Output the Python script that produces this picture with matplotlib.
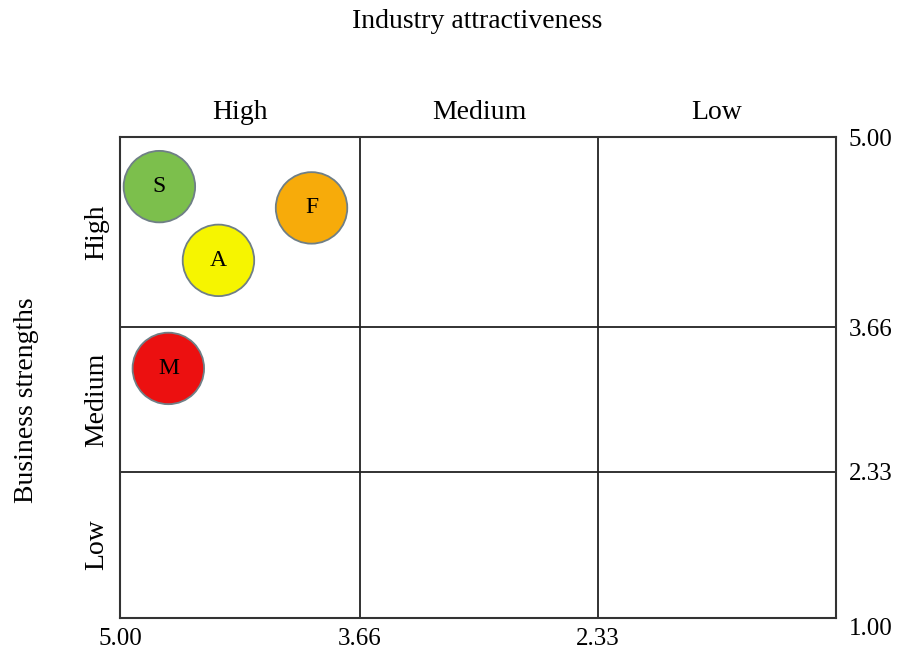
import matplotlib.pyplot as plt
import numpy as np

plt.rcParams['font.family'] = ['Liberation Serif', 'DejaVu Serif']

# business units on the matrix
units = ['S', 'F', 'A', 'M']
attractiveness = [4.78, 3.93, 4.45, 4.73]
strength = [4.65, 4.50, 4.13, 3.28]
colors = ['#7cbf4c', '#f7ab0a', '#f6f500', '#ec1010']

levels = ['High', 'Medium', 'Low']
cuts = [5.00, 3.66, 2.33, 1.00]

# rows of the strength axis are not equally tall
y_knots = [1.00, 2.33, 3.66, 5.00]
y_pos = [0.0, 146.0, 291.0, 481.0]


def fwd(v):
    return np.interp(v, y_knots, y_pos)


def inv(v):
    return np.interp(v, y_pos, y_knots)


fig = plt.figure(figsize=(9.01, 6.60), dpi=100)
ax = fig.add_axes([120 / 901, 42 / 660, 716 / 901, 481 / 660])
ax.set_yscale('function', functions=(fwd, inv))
ax.set_xlim(5.0, 1.0)
ax.set_ylim(1.0, 5.0)

for v in cuts[1:3]:
    ax.axvline(v, color='#222222', lw=1.3)
    ax.axhline(v, color='#222222', lw=1.3)
for sp in ax.spines.values():
    sp.set_color('#333333')
    sp.set_linewidth(1.5)

ax.scatter(attractiveness, strength, s=2650, c=colors, edgecolors='#6f7f86',
           linewidths=1.3, zorder=3)
for u, x, y in zip(units, attractiveness, strength):
    ax.text(x, y, u, ha='center', va='center', fontsize=17, zorder=4)

# tick labels: bottom for attractiveness, right side for strength
ax.set_xticks(cuts[:3])
ax.set_xticklabels(['%.2f' % c for c in cuts[:3]], fontsize=18)
ax.tick_params(axis='x', length=0, pad=7)
ax.yaxis.tick_right()
ax.set_yticks(cuts)
ax.set_yticklabels(['%.2f' % c for c in cuts], fontsize=18)
ax.tick_params(axis='y', length=0, pad=9)
ax.get_yticklabels()[-1].set_verticalalignment('top')

# column and row names
col_mid = [(cuts[i] + cuts[i + 1]) / 2 for i in range(3)]
for name, xm in zip(levels, col_mid):
    ax.text(xm, 1.05, name, transform=ax.get_xaxis_transform(),
            ha='center', va='center', fontsize=20)
for name, ym in zip(levels, col_mid):
    ax.text(-0.032, ym, name, transform=ax.get_yaxis_transform(),
            ha='center', va='center', rotation=90, fontsize=20)

fig.text(477 / 901, 1 - 22 / 660, 'Industry attractiveness',
         ha='center', va='center', fontsize=20)
fig.text(27 / 901, 1 - 400 / 660, 'Business strengths',
         ha='center', va='center', rotation=90, fontsize=20)

fig.savefig('out.png', dpi=100)
